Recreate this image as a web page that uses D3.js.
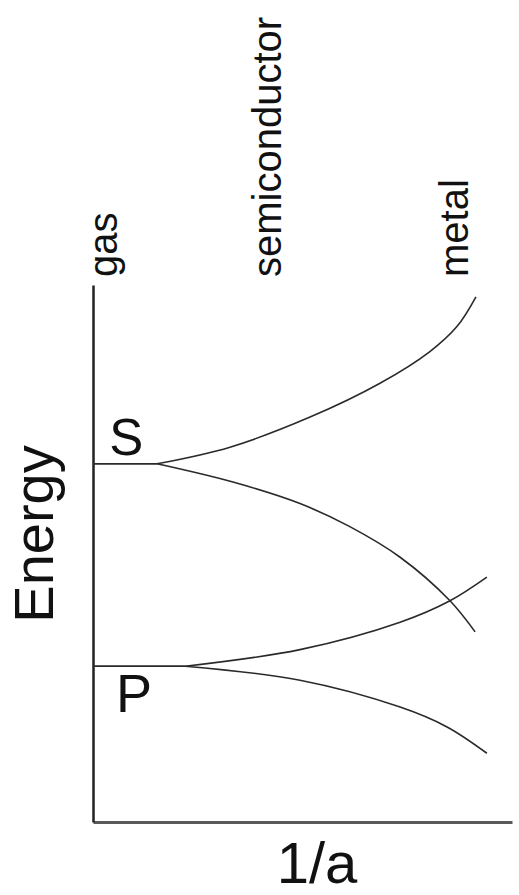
<!DOCTYPE html>
<html lang="en">
<head>
<meta charset="UTF-8">
<title>Energy vs 1/a</title>
<script src="https://d3js.org/d3.v7.min.js"></script>
<style>
  body { margin: 0; background: #fff; }
  text { font-family: "Liberation Sans", Arial, sans-serif; fill: #111; }
</style>
</head>
<body>
<div id="chart"></div>
<script>
// Niveles y bandas (unidades arbitrarias: x = 1/a, y = energía, 0..100)
const phases = ["gas", "semiconductor", "metal"];
const phaseX = [5.7, 44.9, 89.5];

const levelLabels = ["S", "P"];
const levelY = [66.7, 29.0];

// el primer tramo (0 -> punto de separación) es recto
const sUpper = [[0, 66.7], [15.3, 66.7], [32.7, 69.8], [51.8, 75.4], [68.5, 81.7], [80.4, 87.6], [86.9, 92.3], [91.4, 97.8]];
const sLower = [[0, 66.7], [15.3, 66.7], [33.4, 63.3], [49.4, 59.3], [61.3, 55.0], [73.3, 49.3], [85.2, 41.2], [91.2, 35.4]];
const pUpper = [[0, 29.0], [22.0, 29.0], [49.4, 32.1], [73.3, 37.2], [85.2, 41.2], [94.0, 45.6]];
const pLower = [[0, 29.0], [22.0, 29.0], [49.4, 26.4], [73.3, 21.4], [84.5, 17.7], [94.0, 12.8]];

const W = 519, H = 895;
const margin = {top: 285, right: 7, bottom: 73, left: 93};

const svg = d3.select("#chart").append("svg")
    .attr("width", W)
    .attr("height", H);

const x = d3.scaleLinear().domain([0, 100]).range([margin.left, W - margin.right]);
const y = d3.scaleLinear().domain([0, 100]).range([H - margin.bottom, margin.top]);

// Ejes sin marcas
svg.append("g")
    .attr("transform", `translate(0,${y(0)})`)
    .call(d3.axisBottom(x).ticks(0).tickSizeOuter(0))
    .call(g => g.select(".domain").attr("stroke", "#5a5a5a").attr("stroke-width", 3));

svg.append("g")
    .attr("transform", `translate(${x(0)},0)`)
    .call(d3.axisLeft(y).ticks(0).tickSizeOuter(0))
    .call(g => g.select(".domain").attr("stroke", "#222").attr("stroke-width", 2.5));

// Curvas de las bandas
const flat = d3.line()
    .x(d => x(d[0]))
    .y(d => y(d[1]));

const curve = d3.line()
    .x(d => x(d[0]))
    .y(d => y(d[1]))
    .curve(d3.curveCatmullRom.alpha(0.5));

const bands = [sUpper, sLower, pUpper, pLower];

svg.selectAll(".band")
    .data(bands)
    .enter().append("path")
    .attr("class", "band")
    .attr("fill", "none")
    .attr("stroke", "#2a2a2a")
    .attr("stroke-width", 1.6)
    .attr("d", d => flat(d.slice(0, 2)) + curve(d.slice(1)).replace(/^M/, "L"));

// Etiquetas de fase (verticales)
svg.selectAll(".phase")
    .data(phases)
    .enter().append("text")
    .attr("class", "phase")
    .attr("transform", (d, i) => `translate(${x(phaseX[i])},277) rotate(-90)`)
    .attr("text-anchor", "start")
    .style("font-size", "40px")
    .text(d => d);

// Etiquetas S y P
svg.append("text")
    .attr("x", x(3.9))
    .attr("y", y(levelY[0]) - 9)
    .style("font-size", "51px")
    .text(levelLabels[0]);

svg.append("text")
    .attr("x", x(5.5))
    .attr("y", y(levelY[1]) + 46)
    .style("font-size", "54px")
    .text(levelLabels[1]);

// Títulos de los ejes
svg.append("text")
    .attr("transform", `translate(53,534) rotate(-90)`)
    .attr("text-anchor", "middle")
    .style("font-size", "56px")
    .text("Energy");

svg.append("text")
    .attr("x", 317)
    .attr("y", 883)
    .attr("text-anchor", "middle")
    .style("font-size", "58px")
    .text("1/a");
</script>
</body>
</html>
